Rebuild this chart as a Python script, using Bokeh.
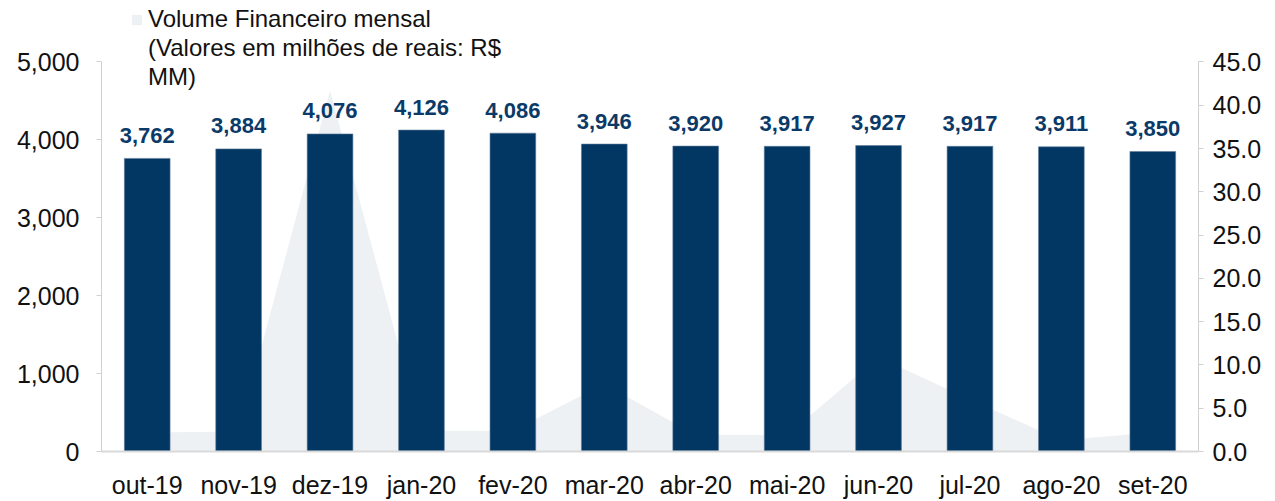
from bokeh.plotting import figure
from bokeh.models import (ColumnDataSource, Range1d, LinearAxis, FixedTicker,
                          NumeralTickFormatter, Legend, LegendItem, FactorRange)
from bokeh.embed import file_html
from bokeh.resources import INLINE
from bokeh.core.properties import value

months = ["out-19", "nov-19", "dez-19", "jan-20", "fev-20", "mar-20",
          "abr-20", "mai-20", "jun-20", "jul-20", "ago-20", "set-20"]
bar_values = [3762, 3884, 4076, 4126, 4086, 3946, 3920, 3917, 3927, 3917, 3911, 3850]
volume_values = [2.2, 2.3, 41.7, 2.4, 2.4, 7.8, 1.9, 1.9, 10.9, 6.0, 1.3, 2.2]
left_ticks = [0, 1000, 2000, 3000, 4000, 5000]
right_ticks = [0, 5, 10, 15, 20, 25, 30, 35, 40, 45]
legend_lines = ["Volume Financeiro mensal", "(Valores em milhões de reais: R$", "MM)"]

FONT = "Liberation Sans"
NAVY = "#023764"
AREA = "#EEF1F4"
AXIS_GREY = "#D0D0D0"

# frame spans canvas y 0..455; the scale top (5000 / 45) sits at y=62
FRAME_H = 455.0
SCALE_H = 393.0
left_max, right_max = 5000, 45
left_top = left_max * FRAME_H / SCALE_H
right_top = right_max * FRAME_H / SCALE_H

src = ColumnDataSource(dict(
    month=months,
    bar=bar_values,
    vol=volume_values,
    lab=[f"{v:,}" for v in bar_values],
))

p = figure(width=1275, height=501, x_range=FactorRange(*months, range_padding=0),
           y_range=Range1d(0, left_top), output_backend="svg", toolbar_location=None,
           min_border_left=101, min_border_right=77, min_border_top=0,
           min_border_bottom=46)
p.outline_line_color = None
p.xgrid.grid_line_color = None
p.ygrid.grid_line_color = None
p.background_fill_color = "white"
p.border_fill_color = "white"

p.extra_y_ranges = {"vol": Range1d(0, right_top)}

area = p.varea(x="month", y1=0, y2="vol", source=src, y_range_name="vol",
               fill_color=AREA)
# invisible companion used only to carry the wrapped legend text lines
blank = p.varea(x="month", y1=0, y2=0, source=src, y_range_name="vol",
                fill_alpha=0)
p.vbar(x="month", top="bar", width=0.5, source=src, fill_color=NAVY,
       line_color="#5E7C99", line_width=0.6)
p.text(x="month", y="bar", text="lab", source=src, text_align="center",
       text_baseline="alphabetic", y_offset=-23, text_font=value(FONT),
       text_font_size="22px", text_font_style="bold", text_color="#0B3A68")

# left axis
ya = p.yaxis[0]
ya.ticker = FixedTicker(ticks=left_ticks)
ya.formatter = NumeralTickFormatter(format="0,0")
ya.bounds = (0, left_max)
# right axis
ra = LinearAxis(y_range_name="vol", ticker=FixedTicker(ticks=right_ticks),
                formatter=NumeralTickFormatter(format="0.0"), bounds=(0, right_max))
p.add_layout(ra, "right")

for ax in (ya, ra):
    ax.axis_line_color = AXIS_GREY
    ax.major_tick_line_color = AXIS_GREY
    ax.major_tick_out = 5
    ax.major_tick_in = 0
    ax.minor_tick_line_color = None
    ax.major_label_text_font = FONT
    ax.major_label_text_font_size = "25px"
    ax.major_label_text_color = "#111111"
    ax.major_label_standoff = 17
ra.major_label_standoff = 9

xa = p.xaxis[0]
xa.axis_line_color = "#D9D9D9"
xa.axis_line_width = 2
xa.major_tick_line_color = None
xa.minor_tick_line_color = None
xa.major_label_text_font = FONT
xa.major_label_text_font_size = "25px"
xa.major_label_text_color = "#111111"
xa.major_label_standoff = 13

legend = Legend(items=[LegendItem(label=legend_lines[0], renderers=[area]),
                       LegendItem(label=legend_lines[1], renderers=[blank]),
                       LegendItem(label=legend_lines[2], renderers=[blank])],
                orientation="vertical",
                label_text_font=FONT, label_text_font_size="24px",
                label_text_color="#111111", label_height=24,
                glyph_width=13, glyph_height=13, label_standoff=5,
                padding=0, margin=0, spacing=1,
                border_line_color=None, background_fill_alpha=0)
legend.location = (29, 360)
p.add_layout(legend, "center")

open("out.html", "w").write(file_html(p, INLINE))
